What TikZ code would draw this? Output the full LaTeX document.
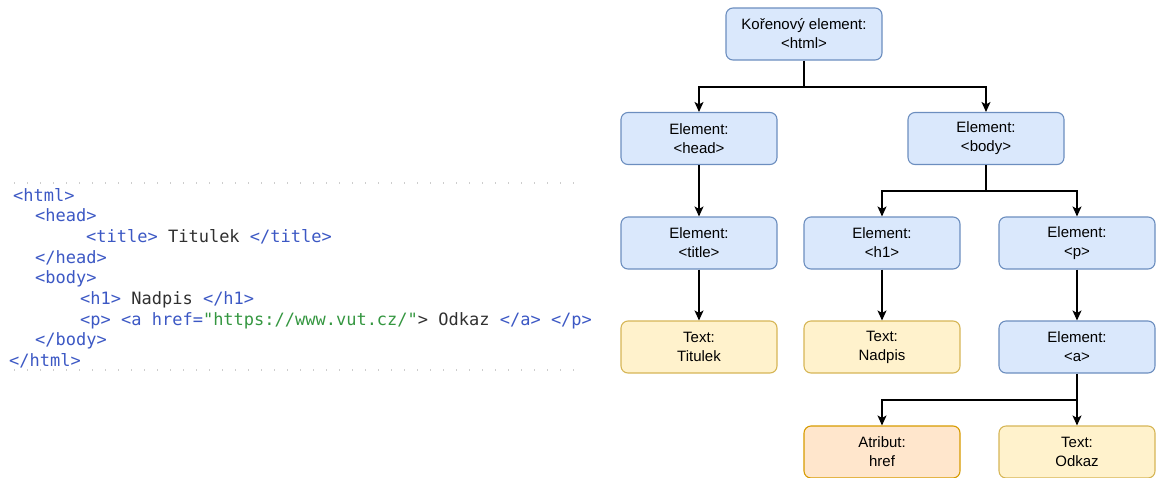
\documentclass[tikz,border=0pt]{standalone}
\usepackage{fontspec}
\setmainfont{Liberation Sans}
\newfontfamily\codefont{DejaVu Sans Mono}
\usetikzlibrary{arrows.meta}

\definecolor{elfill}{HTML}{DAE8FC}
\definecolor{eldraw}{HTML}{6C8EBF}
\definecolor{txfill}{HTML}{FFF2CC}
\definecolor{txdraw}{HTML}{D6B656}
\definecolor{atfill}{HTML}{FFE6CC}
\definecolor{atdraw}{HTML}{D79B00}
\definecolor{tagc}{RGB}{60,88,196}
\definecolor{plainc}{RGB}{48,48,48}
\definecolor{strc}{RGB}{52,150,64}
\definecolor{dotc}{RGB}{205,205,205}

\newcommand{\tg}[1]{\textcolor{tagc}{#1}}
\newcommand{\st}[1]{\textcolor{strc}{#1}}

\tikzset{
  treebox/.style={rectangle, rounded corners=7pt, line width=1.1pt,
    minimum width=156pt, minimum height=52pt, inner sep=0pt, align=center,
    font=\fontsize{15}{19}\selectfont},
  elbox/.style={treebox, fill=elfill, draw=eldraw},
  txbox/.style={treebox, fill=txfill, draw=txdraw},
  atbox/.style={treebox, fill=atfill, draw=atdraw},
  link/.style={line width=1.3pt, -{Stealth[length=10pt,width=9pt,inset=2.5pt]}},
  bare/.style={line width=1.3pt},
  codeline/.style={anchor=base west, inner sep=0pt, text=plainc,
    font=\codefont\fontsize{17}{20}\selectfont},
  guide/.style={dotc, line width=1.2pt, dash pattern=on 1.2pt off 11.8pt}
}

\begin{document}
\begin{tikzpicture}[x=1pt,y=-1pt]
\useasboundingbox (0,0) rectangle (1156,477);
\clip (0,0) rectangle (1156,477);

% source listing
\draw[guide] (14,183) -- (585,183);
\draw[guide] (14,370) -- (585,370);
\node[codeline] (c1) at (13,201.0) {\tg{<html>}};
\node[codeline] (c2) at (35,221.7) {\tg{<head>}};
\node[codeline] (c3) at (86,242.4) {\tg{<title>} Titulek \tg{</title>}};
\node[codeline] (c4) at (35,263.1) {\tg{</head>}};
\node[codeline] (c5) at (35,283.8) {\tg{<body>}};
\node[codeline] (c6) at (80,304.5) {\tg{<h1>} Nadpis \tg{</h1>}};
\node[codeline] (c7) at (80,325.2) {\tg{<p>} \tg{<a} \tg{href=}\st{"https://www.vut.cz/"}> Odkaz \tg{</a>} \tg{</p>}};
\node[codeline] (c8) at (35,345.9) {\tg{</body>}};
\node[codeline] (c9) at (9,366.6) {\tg{</html>}};

% DOM tree
\node[elbox] (html)  at (804,34)    {Kořenový element:\\<html>};
\node[elbox] (head)  at (699,138.5) {Element:\\<head>};
\node[elbox] (body)  at (986,138.5) {Element:\\<body>};
\node[elbox] (title) at (699,243)   {Element:\\<title>};
\node[elbox] (h1)    at (882,243)   {Element:\\<h1>};
\node[elbox] (p)     at (1077,243)  {Element:\\<p>};
\node[txbox] (titulek) at (699,347) {Text:\\Titulek};
\node[txbox] (nadpis)  at (882,347) {Text:\\Nadpis};
\node[elbox] (a)       at (1077,347) {Element:\\<a>};
\node[atbox] (href)    at (882,452) {Atribut:\\href};
\node[txbox] (odkaz)   at (1077,452) {Text:\\Odkaz};

\coordinate (jhtml) at (804,87);
\coordinate (jbody) at (986,191);
\coordinate (ja)    at (1077,400);

\draw[bare] (html.south) -- (jhtml);
\draw[link] (jhtml) -| (head.north);
\draw[link] (jhtml) -| (body.north);
\draw[link] (head.south) -- (title.north);
\draw[bare] (body.south) -- (jbody);
\draw[link] (jbody) -| (h1.north);
\draw[link] (jbody) -| (p.north);
\draw[link] (title.south) -- (titulek.north);
\draw[link] (h1.south) -- (nadpis.north);
\draw[link] (p.south) -- (a.north);
\draw[link] (a.south) -- (odkaz.north);
\draw[link] (ja) -| (href.north);
\end{tikzpicture}
\end{document}
